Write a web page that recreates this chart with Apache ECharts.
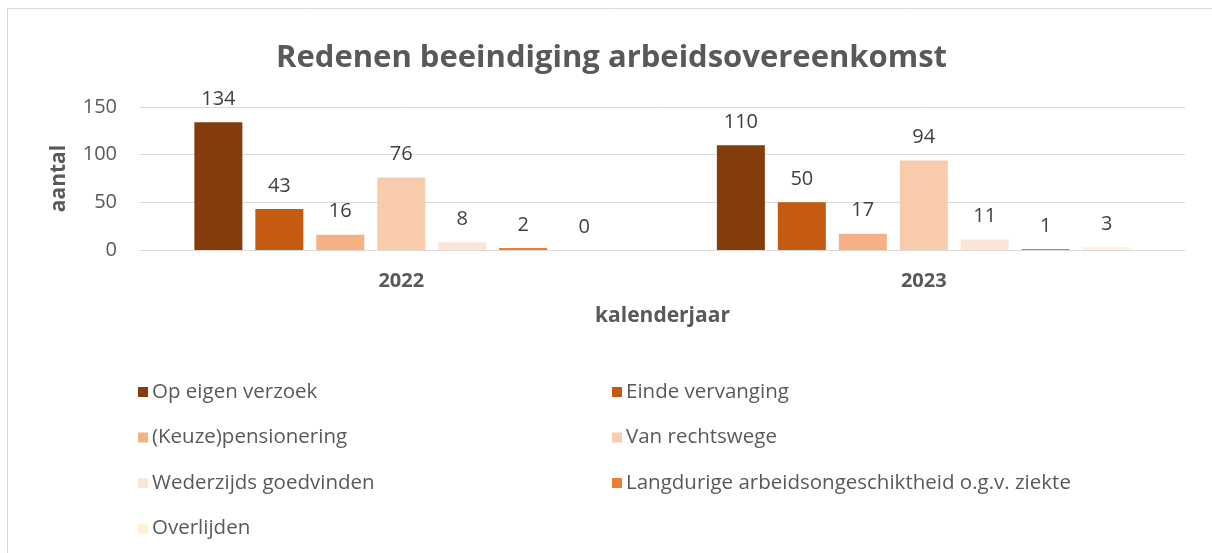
<!DOCTYPE html>
<html>
<head>
<meta charset="utf-8">
<script src="https://cdn.jsdelivr.net/npm/echarts@6/dist/echarts.min.js"></script>
<style>
  html, body { margin: 0; padding: 0; background: #fff; }
  #chart { width: 1212px; height: 553px; }
</style>
</head>
<body>
<div id="chart"></div>
<script>
const years = ['2022', '2023']
const seriesNames = [
  'Op eigen verzoek',
  'Einde vervanging',
  '(Keuze)pensionering',
  'Van rechtswege',
  'Wederzijds goedvinden',
  'Langdurige arbeidsongeschiktheid o.g.v. ziekte',
  'Overlijden',
]
const opEigenVerzoek = [134, 110]
const eindeVervanging = [43, 50]
const keuzePensionering = [16, 17]
const vanRechtswege = [76, 94]
const wederzijdsGoedvinden = [8, 11]
const langdurigeZiekte = [2, 1]
const overlijden = [0, 3]
const yTicks = [0, 50, 100, 150]

const colors = ['#843C0C', '#C55A11', '#F4B183', '#F8CBAD', '#FBE5D6', '#ED7D31', '#FFF2CC']
const values = [
  opEigenVerzoek,
  eindeVervanging,
  keuzePensionering,
  vanRechtswege,
  wederzijdsGoedvinden,
  langdurigeZiekte,
  overlijden,
]

const font = '"Open Sans", "Noto Sans", sans-serif'
const chart = echarts.init(document.getElementById('chart'))

const legendBase = {
  orient: 'vertical',
  icon: 'rect',
  itemWidth: 10,
  itemHeight: 10,
  itemGap: 23.5,
  top: 376,
  textStyle: { color: '#595959', fontSize: 20.5, fontFamily: font, lineHeight: 22, padding: [0, 0, 0, -1] },
}

const option = {
  animation: false,
  color: colors,
  graphic: [
    {
      type: 'rect',
      shape: { x: 7.5, y: 8.5, width: 1300, height: 700 },
      style: { fill: 'none', stroke: '#D9D9D9', lineWidth: 1 },
      silent: true,
    },
  ],
  title: {
    text: 'Redenen beeindiging arbeidsovereenkomst',
    left: 271,
    top: 38,
    textStyle: { color: '#595959', fontSize: 31, fontWeight: 'bold', fontFamily: font },
  },
  grid: { left: 140, right: 27, top: 107, height: 143 },
  legend: [
    Object.assign({}, legendBase, { left: 133, data: [seriesNames[0], seriesNames[2], seriesNames[4], seriesNames[6]] }),
    Object.assign({}, legendBase, { left: 607, data: [seriesNames[1], seriesNames[3], seriesNames[5]] }),
  ],
  xAxis: {
    type: 'category',
    data: years,
    name: 'kalenderjaar',
    nameLocation: 'middle',
    nameGap: 56,
    nameTextStyle: { color: '#595959', fontSize: 21, fontWeight: 'bold', fontFamily: font },
    axisLine: { lineStyle: { color: '#D9D9D9' } },
    axisTick: { show: false },
    axisLabel: { color: '#595959', fontSize: 20, fontWeight: 'bold', fontFamily: font, margin: 21 },
  },
  yAxis: {
    type: 'value',
    min: yTicks[0],
    max: yTicks[yTicks.length - 1],
    interval: 50,
    name: 'aantal',
    nameLocation: 'middle',
    nameGap: 70,
    nameTextStyle: { color: '#595959', fontSize: 21, fontWeight: 'bold', fontFamily: font },
    axisLine: { show: false },
    axisTick: { show: false },
    axisLabel: { color: '#595959', fontSize: 20, fontFamily: font, margin: 23 },
    splitLine: { lineStyle: { color: '#D9D9D9', width: 1 } },
  },
  series: seriesNames.map((name, i) => ({
    name: name,
    type: 'bar',
    data: values[i],
    barWidth: 48,
    barGap: '27%',
    itemStyle: { color: colors[i] },
    label: {
      show: true,
      position: 'top',
      distance: 13,
      color: '#404040',
      fontSize: 20,
      fontFamily: font,
    },
  })),
}

chart.setOption(option)
</script>
</body>
</html>
